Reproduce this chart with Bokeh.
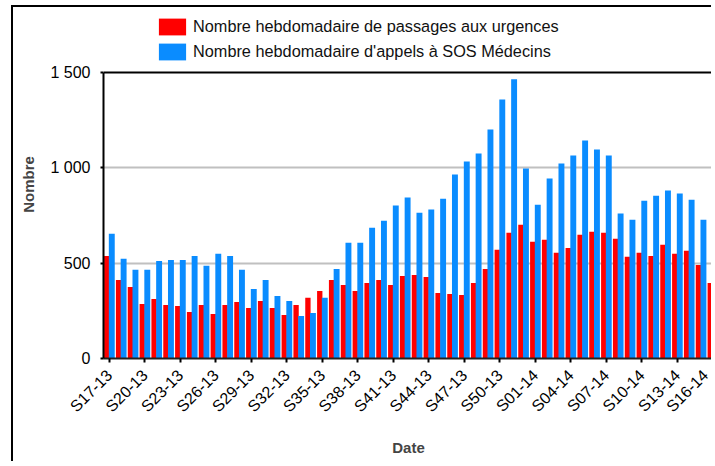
import math
import numpy as np
from bokeh.plotting import figure
from bokeh.models import Range1d, FixedTicker, Legend, LegendItem, Span, ColumnDataSource
from bokeh.embed import file_html
from bokeh.resources import INLINE

weeks = ["S17-13", "S18-13", "S19-13", "S20-13", "S21-13", "S22-13", "S23-13", "S24-13",
         "S25-13", "S26-13", "S27-13", "S28-13", "S29-13", "S30-13", "S31-13", "S32-13",
         "S33-13", "S34-13", "S35-13", "S36-13", "S37-13", "S38-13", "S39-13", "S40-13",
         "S41-13", "S42-13", "S43-13", "S44-13", "S45-13", "S46-13", "S47-13", "S48-13",
         "S49-13", "S50-13", "S51-13", "S52-13", "S01-14", "S02-14", "S03-14", "S04-14",
         "S05-14", "S06-14", "S07-14", "S08-14", "S09-14", "S10-14", "S11-14", "S12-14",
         "S13-14", "S14-14", "S15-14", "S16-14"]

urgences = [538, 412, 375, 286, 312, 281, 275, 244, 281, 233, 281, 296, 265, 302, 265, 228,
            281, 319, 354, 412, 386, 354, 396, 412, 386, 433, 438, 428, 344, 338, 333, 396,
            470, 570, 659, 702, 612, 623, 554, 580, 649, 665, 659, 628, 533, 554, 538, 596,
            549, 565, 491, 396]

sos = [654, 523, 465, 465, 512, 517, 517, 538, 486, 549, 538, 465, 365, 412, 328, 302,
       223, 238, 318, 470, 607, 607, 686, 723, 802, 844, 765, 781, 838, 965, 1033, 1075,
       1201, 1359, 1465, 996, 807, 944, 1023, 1065, 1144, 1096, 1065, 760, 728, 828, 854, 881,
       865, 833, 728, float("nan")]

y_ticks = [0, 500, 1000, 1500]
y_labels = ["0", "500", "1 000", "1 500"]
y_max = 1500

label_red = "Nombre hebdomadaire de passages aux urgences"
label_blue = "Nombre hebdomadaire d'appels à SOS Médecins"

FONT = "Liberation Sans"

# layout (page pixels): canvas top 7, frame top 10, y_max line at 72, zero at 358
W, H = 700, 456
CANVAS_TOP, FRAME_TOP, YMAX_PX, ZERO_PX = 7, 10, 72, 358
y_end = y_max * (ZERO_PX - FRAME_TOP) / (ZERO_PX - YMAX_PX)

idx = np.arange(len(weeks))
src = ColumnDataSource(dict(
    xr=idx - 0.225, xb=idx + 0.2,
    red=np.array(urgences, dtype=float), blue=np.array(sos, dtype=float),
))

p = figure(width=W, height=H,
           x_range=Range1d(-0.5, 51.05), y_range=Range1d(0, y_end),
           output_backend="svg", toolbar_location=None,
           min_border_left=90, min_border_right=0,
           min_border_top=FRAME_TOP - CANVAS_TOP, min_border_bottom=H - (ZERO_PX - CANVAS_TOP))
p.styles = {"border-left": "2px solid black", "border-top": "2px solid black",
            "margin-left": "11px", "margin-top": "5px"}
p.outline_line_color = None
p.background_fill_color = "white"
p.border_fill_color = "white"

r_red = p.vbar(x="xr", top="red", width=0.45, bottom=0, source=src,
               fill_color="#FF0000", line_color=None)
r_blue = p.vbar(x="xb", top="blue", width=0.5, bottom=0, source=src,
                fill_color="#0A8CFF", line_color=None)

p.add_layout(Span(location=y_max, dimension="width", line_color="black", line_width=2))

# axes
p.xaxis.ticker = FixedTicker(ticks=list(range(0, len(weeks), 3)))
p.xaxis.major_label_overrides = {i: weeks[i] for i in range(0, len(weeks), 3)}
p.xaxis.major_label_orientation = math.pi / 4
p.xaxis.axis_label = "Date"
p.yaxis.ticker = FixedTicker(ticks=y_ticks)
p.yaxis.major_label_overrides = dict(zip(y_ticks, y_labels))
p.yaxis.axis_label = "Nombre"
p.yaxis.bounds = (0, y_max)

for ax in (p.xaxis[0], p.yaxis[0]):
    ax.major_label_text_font = FONT
    ax.major_label_text_color = "black"
    ax.axis_label_text_font = FONT
    ax.axis_label_text_font_style = "bold"
    ax.axis_label_text_color = "#444444"
    ax.axis_label_text_font_size = "15px"
    ax.minor_tick_line_color = None
    ax.major_tick_in = 0
    ax.axis_line_width = 2
    ax.major_tick_line_width = 2

p.xaxis.major_label_text_font_size = "16px"
p.yaxis.major_label_text_font_size = "16px"
p.xaxis.axis_line_color = "#222222"
p.xaxis.major_tick_out = 4
p.xaxis.major_label_standoff = 10
p.xaxis.axis_label_standoff = 15
p.yaxis.axis_line_color = "black"
p.yaxis.major_tick_out = 3
p.yaxis.major_label_standoff = 10
p.yaxis.axis_label_standoff = 10

p.xgrid.visible = False
p.ygrid.ticker = FixedTicker(ticks=[500, 1000])
p.ygrid.grid_line_color = "#C0C0C0"
p.ygrid.grid_line_width = 2

legend = Legend(items=[LegendItem(label=label_red, renderers=[r_red]),
                       LegendItem(label=label_blue, renderers=[r_blue])],
                location=(52, 296), orientation="vertical",
                glyph_width=34, glyph_height=21, label_standoff=4, spacing=4,
                padding=0, margin=0, border_line_color=None, background_fill_alpha=0,
                label_text_font=FONT, label_text_font_size="16.3px", label_text_color="#111111",
                label_height=21)
p.add_layout(legend)

open("out.html", "w").write(file_html(p, INLINE))
